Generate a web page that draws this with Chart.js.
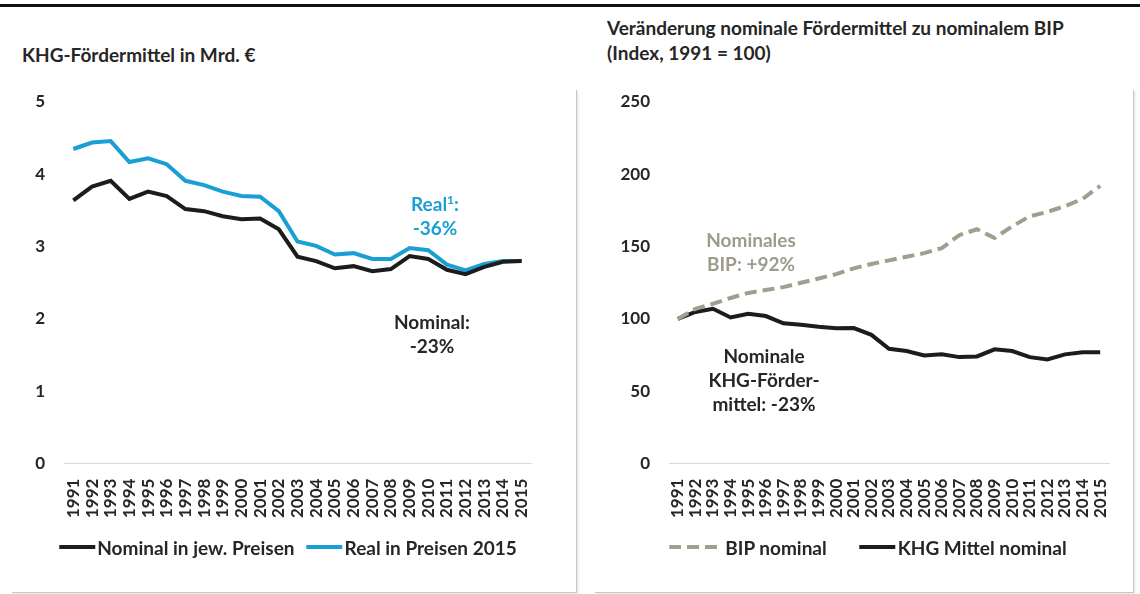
<!DOCTYPE html>
<html lang="de">
<head>
<meta charset="utf-8">
<title>KHG-Fördermittel</title>
<script src="https://cdn.jsdelivr.net/npm/chart.js@4.4.1/dist/chart.umd.min.js"></script>
<style>
  html, body { margin: 0; padding: 0; background: #fff; }
  body { width: 1140px; height: 594px; position: relative; overflow: hidden; font-family: Lato, "Open Sans", sans-serif; color: #262626; }
  .topline { position: absolute; left: 0; top: 4px; width: 1140px; height: 3px; background: #111; }
  .panel { position: absolute; border-right: 1px solid #c8c8c8; border-bottom: 1px solid #c8c8c8; box-shadow: 1px 1px 2px rgba(0,0,0,0.12); }
  .title { position: absolute; font-weight: bold; font-size: 19px; line-height: 25px; white-space: nowrap; }
  .note { position: absolute; font-weight: bold; font-size: 19px; line-height: 24px; text-align: center; white-space: nowrap; transform: translateX(-50%); }
  .legend { position: absolute; top: 535px; height: 24px; display: flex; align-items: center; transform: translateX(-50%); white-space: nowrap; font-weight: bold; font-size: 19px; }
  .legend .item { display: flex; align-items: center; }
  .legend .sample { height: 4px; }
  canvas { position: absolute; }
</style>
</head>
<body>
<div class="topline"></div>
<div class="panel" style="left:12px; top:90px; width:564px; height:502px;"></div>
<div class="panel" style="left:595px; top:90px; width:538px; height:502px;"></div>

<div class="title" style="left:22px; top:42px;">KHG-Fördermittel in Mrd. €</div>
<div class="title" style="left:607px; top:15px;">Veränderung nominale Fördermittel zu nominalem BIP<br>(Index, 1991 = 100)</div>

<div style="position:absolute; left:0; top:0; width:580px; height:594px;"><canvas id="leftChart"></canvas></div>
<div style="position:absolute; left:585px; top:0; width:555px; height:594px;"><canvas id="rightChart"></canvas></div>

<div class="note" style="left:435px; top:188px; color:#1a9fd4;">Real<sup style="font-size:12px;">1</sup>:<br>-36%</div>
<div class="note" style="left:432px; top:310px;">Nominal:<br>-23%</div>
<div class="note" style="left:751px; top:228px; color:#9c9b8c;">Nominales<br>BIP: +92%</div>
<div class="note" style="left:764px; top:344px;">Nominale<br>KHG-Förder-<br>mittel: -23%</div>

<div class="legend" id="leftLegend" style="left:288px;"></div>
<div class="legend" id="rightLegend" style="left:868px;"></div>

<script>
// DATEN
const years = ['1991','1992','1993','1994','1995','1996','1997','1998','1999','2000','2001','2002','2003',
  '2004','2005','2006','2007','2008','2009','2010','2011','2012','2013','2014','2015'];

// KHG-Fördermittel in Mrd. €
const nominalValues = [3.64,3.83,3.91,3.66,3.76,3.70,3.52,3.49,3.42,3.38,3.39,3.24,2.86,
  2.80,2.70,2.73,2.66,2.69,2.87,2.83,2.68,2.62,2.72,2.79,2.80];
const realValues = [4.35,4.44,4.46,4.17,4.22,4.14,3.91,3.85,3.76,3.70,3.69,3.49,3.07,
  3.01,2.89,2.91,2.83,2.83,2.98,2.95,2.75,2.67,2.76,2.80,2.80];

// Index 1991 = 100
const bipIndex = [100,107,110.5,114.5,118,120,122,125,128,131,135,138,140.5,
  143,145.5,149,158,162,156,164,171,174,178,183,192];
const khgIndex = [100,104.8,107,101,103.6,102,97,96,94.6,93.5,93.7,89,79.4,
  77.8,74.8,75.5,73.6,74.1,79,77.8,73.6,72,75.5,77,77];

const leftTicks = [0, 1, 2, 3, 4, 5];
const rightTicks = [0, 50, 100, 150, 200, 250];

const FONT = 'Lato, "Open Sans", sans-serif';
const TEXT_COLOR = '#262626';
const BLACK = '#1c1c1c';
const CYAN = '#1a9fd4';
const GREY = '#a09e8f';

function buildOptions(tickValues, axisWidth, padding) {
  return {
    responsive: false,
    animation: false,
    layout: { padding: padding },
    elements: { point: { radius: 0 }, line: { tension: 0, borderWidth: 4 } },
    plugins: { tooltip: { enabled: false }, legend: { display: false } },
    scales: {
      x: {
        offset: true,
        grid: { display: false, drawTicks: false },
        border: { display: true, color: '#d9d9d9', width: 1 },
        ticks: {
          autoSkip: false, minRotation: 90, maxRotation: 90, padding: 15,
          color: TEXT_COLOR, font: { family: FONT, size: 17, weight: 'bold' }
        }
      },
      y: {
        min: tickValues[0],
        max: tickValues[tickValues.length - 1],
        afterBuildTicks: axis => { axis.ticks = tickValues.map(v => ({ value: v })); },
        afterFit: axis => { axis.width = axisWidth; },
        grid: { display: false, drawTicks: false },
        border: { display: false },
        ticks: { padding: 19, color: TEXT_COLOR, font: { family: FONT, size: 17, weight: 'bold' } }
      }
    }
  };
}

// Legende als HTML aus den Datensätzen
function renderLegend(chart, el, gaps) {
  chart.data.datasets.forEach((ds, i) => {
    const item = document.createElement('div');
    item.className = 'item';
    if (i > 0) item.style.marginLeft = gaps.between + 'px';
    const sample = document.createElement('span');
    sample.className = 'sample';
    if (ds.borderDash) {
      const [dash, gap] = ds.borderDash;
      sample.style.width = (dash * 3 + gap * 2) + 'px';
      sample.style.background = `repeating-linear-gradient(to right, ${ds.borderColor} 0 ${dash}px, transparent ${dash}px ${dash + gap}px)`;
      sample.style.marginRight = gaps.dashText + 'px';
    } else {
      sample.style.width = '36px';
      sample.style.background = ds.borderColor;
      sample.style.marginRight = gaps.text + 'px';
    }
    const label = document.createElement('span');
    label.textContent = ds.label;
    item.appendChild(sample);
    item.appendChild(label);
    el.appendChild(item);
  });
}

const leftCanvas = document.getElementById('leftChart');
leftCanvas.width = 580; leftCanvas.height = 594;
const leftChart = new Chart(leftCanvas.getContext('2d'), {
  type: 'line',
  data: {
    labels: years,
    datasets: [
      { label: 'Nominal in jew. Preisen', data: nominalValues, borderColor: BLACK, backgroundColor: BLACK, borderWidth: 4 },
      { label: 'Real in Preisen 2015', data: realValues, borderColor: CYAN, backgroundColor: CYAN, borderWidth: 4 }
    ]
  },
  options: buildOptions(leftTicks, 60, { top: 102, left: 4, right: 49, bottom: 61 })
});

const rightCanvas = document.getElementById('rightChart');
rightCanvas.width = 555; rightCanvas.height = 594;
const rightChart = new Chart(rightCanvas.getContext('2d'), {
  type: 'line',
  data: {
    labels: years,
    datasets: [
      { label: 'BIP nominal', data: bipIndex, borderColor: GREY, backgroundColor: GREY, borderWidth: 4, borderDash: [12, 6] },
      { label: 'KHG Mittel nominal', data: khgIndex, borderColor: BLACK, backgroundColor: BLACK, borderWidth: 4 }
    ]
  },
  options: buildOptions(rightTicks, 66, { top: 102, left: 18, right: 31, bottom: 61 })
});

renderLegend(leftChart, document.getElementById('leftLegend'), { between: 12, text: 2, dashText: 7 });
renderLegend(rightChart, document.getElementById('rightLegend'), { between: 33, text: 2, dashText: 8 });
</script>
</body>
</html>
